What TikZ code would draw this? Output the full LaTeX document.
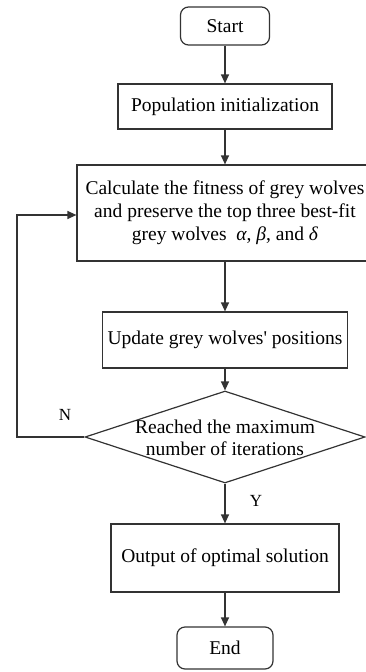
\documentclass[tikz,border=0pt]{standalone}
\usepackage{fontspec}
\setmainfont{Liberation Serif}
\usetikzlibrary{arrows.meta,shapes.geometric}
\begin{document}
\begin{tikzpicture}[x=1pt,y=1pt,
  ln/.style={draw=black!80,line width=1.2pt},
  arr/.style={ln,-{Triangle[length=9pt,width=8pt]}},
  box/.style={ln,rectangle,inner sep=0pt,align=center,font=\fontsize{19.5}{23}\selectfont},
  term/.style={box,rounded corners=8pt},
  lbl/.style={font=\fontsize{17}{20}\selectfont,inner sep=0pt}
]
\useasboundingbox (0,0) rectangle (366,-672);
\node[term,minimum width=89,minimum height=38] (start) at (225,-26) {Start};
\node[box,minimum width=214,minimum height=45] (pop) at (225,-106.5) {Population initialization};
\node[box,minimum width=296,minimum height=96] (calc) at (225,-213) {Calculate the fitness of grey wolves\\and preserve the top three best-fit\\grey wolves ~{\itshape α}, {\itshape β}, and {\itshape δ}};
\node[box,minimum width=245,minimum height=56] (upd) at (225,-340) {Update grey wolves\textquotesingle\ positions};
\node[ln,diamond,minimum width=280,minimum height=92,inner sep=0pt] (dia) at (225,-437) {};
\node[align=center,inner sep=0pt,font=\fontsize{19.5}{22.5}\selectfont] (diat) at (225,-438) {Reached the maximum\\number of iterations};
\node[box,minimum width=228,minimum height=68] (out) at (225,-558) {Output of optimal solution};
\node[term,minimum width=96,minimum height=42] (end) at (225,-648) {End};
\node[lbl] (n) at (65,-415) {N};
\node[lbl] (y) at (256,-501) {Y};
\coordinate (lc) at (17,-437);
\coordinate (lt) at (17,-215);
\draw[arr] (start) -- (pop);
\draw[arr] (pop) -- (calc);
\draw[arr] (calc) -- (upd);
\draw[arr] (upd) -- (dia);
\draw[arr] (dia) -- (out);
\draw[arr] (out) -- (end);
\draw[arr] (dia.west) -- (lc) -- (lt) -- (calc.west |- lt);
\end{tikzpicture}
\end{document}
